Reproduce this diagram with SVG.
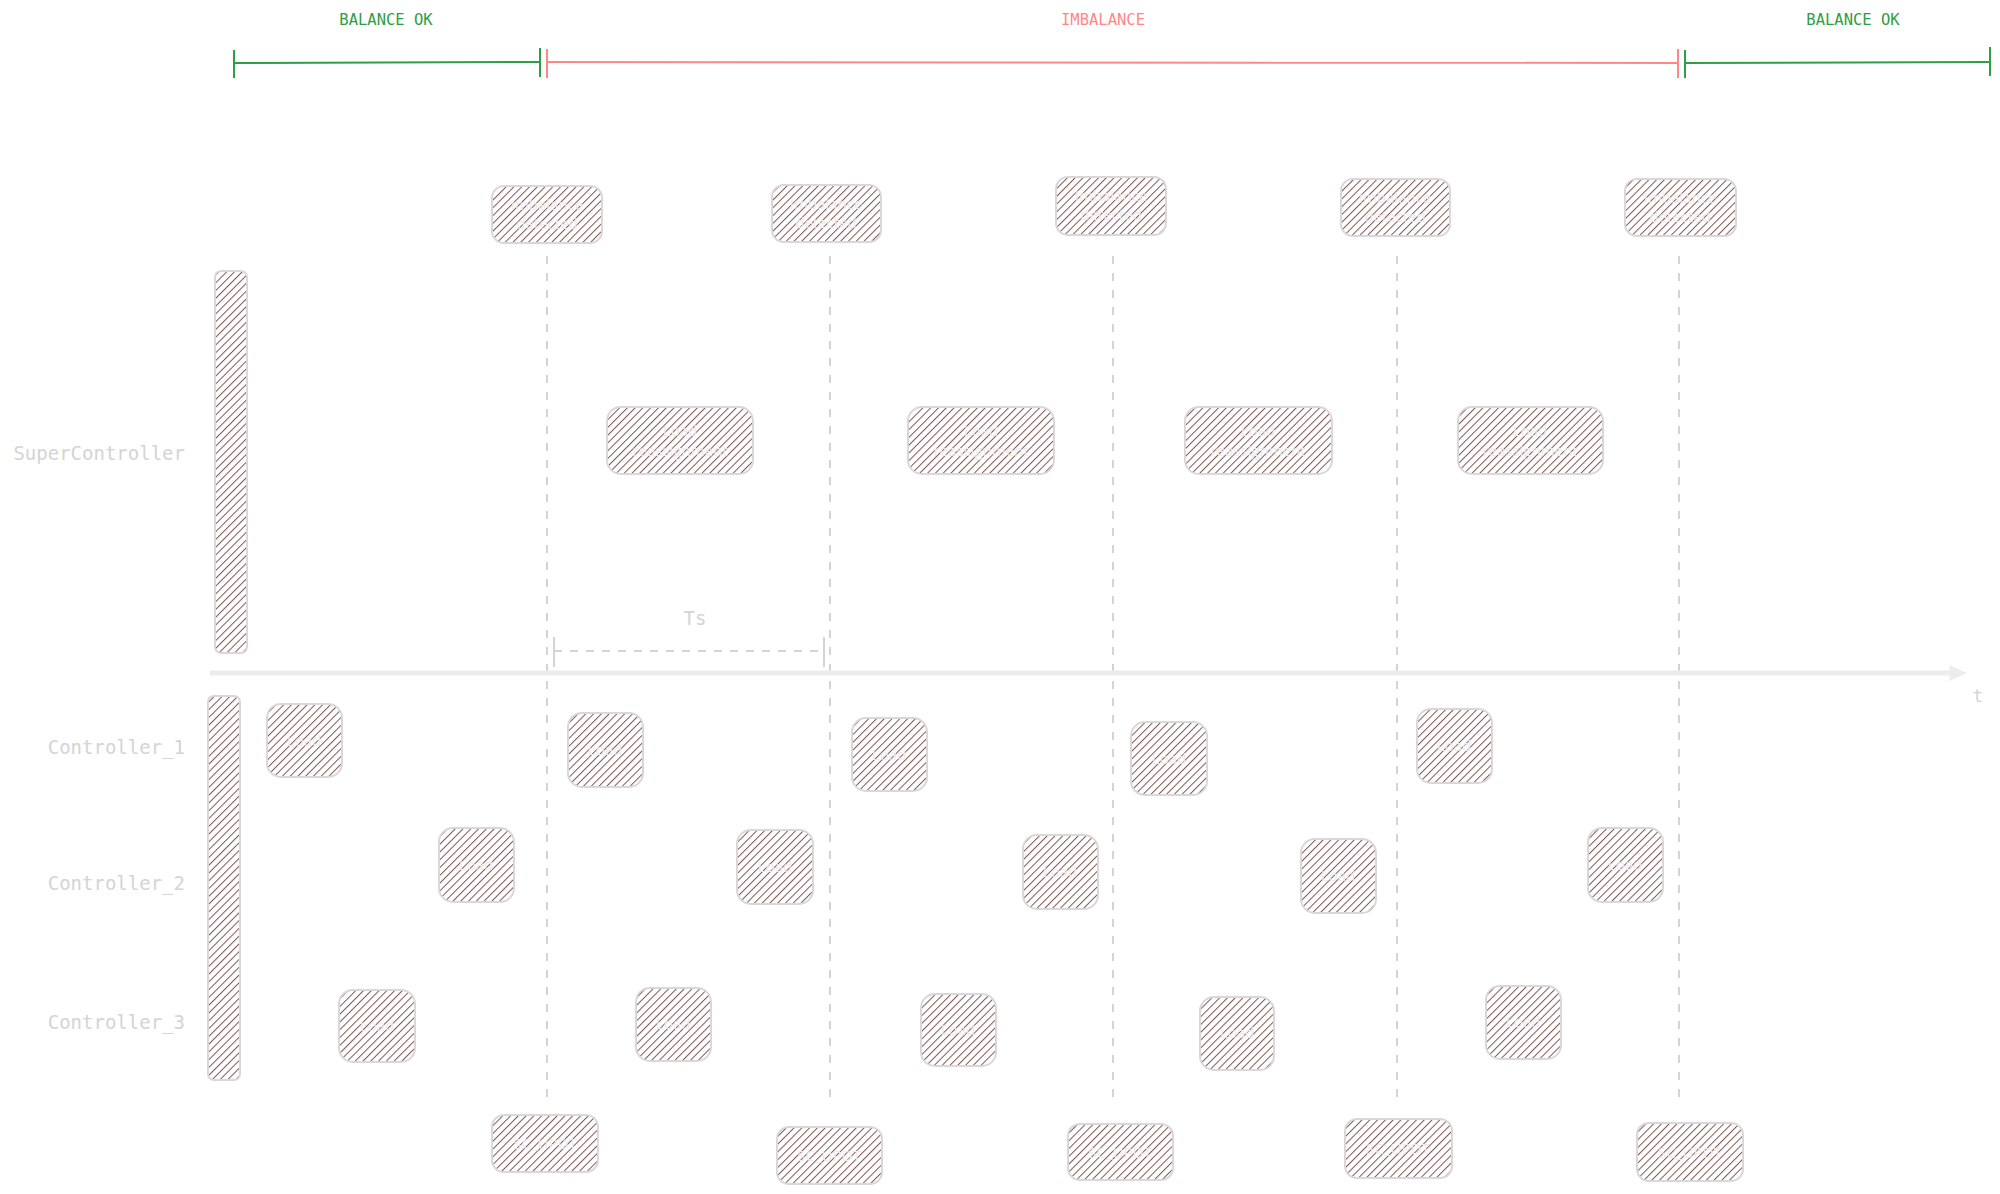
<svg xmlns="http://www.w3.org/2000/svg" width="2000" height="1194" viewBox="0 0 2000 1194">
<defs>
<pattern id="hatch" patternUnits="userSpaceOnUse" width="5.5" height="5.5" patternTransform="rotate(45)">
<rect width="5.5" height="5.5" fill="#ffffff"/>
<line x1="0" y1="0" x2="0" y2="5.5" stroke="#7e5656" stroke-width="2"/>
</pattern>
<marker id="arrow" markerWidth="20" markerHeight="20" refX="4" refY="10" orient="auto" markerUnits="userSpaceOnUse">
<path d="M0,2 Q2,10 0,18 L18,10 Z" fill="#ececec"/>
</marker>
</defs>
<style>
.box{fill:url(#hatch);stroke:#d8d8d8;stroke-width:2}
.btxt{font-family:"Open Sans","DejaVu Sans",sans-serif;font-size:15px;fill:#ececec;text-anchor:middle}
.lane{font-family:"DejaVu Sans Mono","Liberation Mono",monospace;font-size:19px;fill:#d4d4d4;text-anchor:end}
.phase{font-family:"DejaVu Sans Mono","Liberation Mono",monospace;font-size:15.5px;text-anchor:middle}
.vdash{stroke:#d4d4d4;stroke-width:2;stroke-dasharray:8 9;fill:none}
</style>
<rect width="2000" height="1194" fill="#ffffff"/>

<g id="phases">
<text class="phase" x="386" y="25" fill="#2f9e44">BALANCE OK</text>
<text class="phase" x="1103" y="25" fill="#ff8787">IMBALANCE</text>
<text class="phase" x="1853" y="25" fill="#2f9e44">BALANCE OK</text>
<g stroke="#2f9e44" stroke-width="2" fill="none">
<line x1="234" y1="63" x2="540" y2="62"/>
<line x1="234" y1="50" x2="234" y2="78"/>
<line x1="540" y1="48" x2="540" y2="77"/>
<line x1="1685" y1="63" x2="1990" y2="62"/>
<line x1="1685" y1="50" x2="1685" y2="78"/>
<line x1="1990" y1="47" x2="1990" y2="76"/>
</g>
<g stroke="#ff8787" stroke-width="2" fill="none">
<line x1="547" y1="62" x2="1678" y2="63"/>
<line x1="547" y1="49" x2="547" y2="78"/>
<line x1="1678" y1="49" x2="1678" y2="78"/>
</g>
</g>

<g id="connectors">
<line class="vdash" x1="547" y1="256" x2="547" y2="1097"/>
<line class="vdash" x1="830" y1="256" x2="830" y2="1097"/>
<line class="vdash" x1="1113" y1="256" x2="1113" y2="1097"/>
<line class="vdash" x1="1397" y1="256" x2="1397" y2="1097"/>
<line class="vdash" x1="1679" y1="256" x2="1679" y2="1097"/>
<line x1="210" y1="673" x2="1953" y2="673" stroke="#ececec" stroke-width="5" marker-end="url(#arrow)"/>
<text x="1978" y="702" font-family="DejaVu Sans Mono, Liberation Mono, monospace" font-size="18" fill="#d4d4d4" text-anchor="middle">t</text>
<g id="ts">
<line x1="554" y1="651" x2="824" y2="651" stroke="#d4d4d4" stroke-width="2" stroke-dasharray="8 8"/>
<line x1="554" y1="637" x2="554" y2="667" stroke="#d4d4d4" stroke-width="2"/>
<line x1="824" y1="637" x2="824" y2="667" stroke="#d4d4d4" stroke-width="2"/>
<text x="695" y="625" font-family="DejaVu Sans Mono, Liberation Mono, monospace" font-size="19" fill="#d4d4d4" text-anchor="middle">Ts</text>
</g>
</g>

<g id="lanes">
<text class="lane" x="185" y="460">SuperController</text>
<text class="lane" x="185" y="754">Controller_1</text>
<text class="lane" x="185" y="890">Controller_2</text>
<text class="lane" x="185" y="1029">Controller_3</text>
</g>

<g id="sc-bar"><rect class="box" x="215" y="271" width="32" height="382" rx="6"/></g>
<g id="ctrl-bar"><rect class="box" x="208" y="696" width="32" height="384" rx="6"/></g>

<g id="detect-1"><rect class="box" x="492" y="186" width="110" height="57" rx="12"/><text class="btxt" x="547" y="210">Imbalance</text><text class="btxt" x="547" y="229">detected</text></g>
<g id="detect-2"><rect class="box" x="772" y="185" width="109" height="57" rx="12"/><text class="btxt" x="826" y="209">Imbalance</text><text class="btxt" x="826" y="228">detected</text></g>
<g id="detect-3"><rect class="box" x="1056" y="177" width="110" height="58" rx="12"/><text class="btxt" x="1111" y="201">Imbalance</text><text class="btxt" x="1111" y="220">detected</text></g>
<g id="detect-4"><rect class="box" x="1341" y="179" width="109" height="57" rx="12"/><text class="btxt" x="1395" y="203">Imbalance</text><text class="btxt" x="1395" y="222">detected</text></g>
<g id="detect-5"><rect class="box" x="1625" y="179" width="111" height="57" rx="12"/><text class="btxt" x="1680" y="203">Imbalance</text><text class="btxt" x="1680" y="222">detected</text></g>

<g id="reassign-1"><rect class="box" x="607" y="407" width="146" height="67" rx="14"/><text class="btxt" x="680" y="436">Load</text><text class="btxt" x="680" y="456">reassignment</text></g>
<g id="reassign-2"><rect class="box" x="908" y="407" width="146" height="67" rx="14"/><text class="btxt" x="981" y="436">Load</text><text class="btxt" x="981" y="456">reassignment</text></g>
<g id="reassign-3"><rect class="box" x="1185" y="407" width="147" height="67" rx="14"/><text class="btxt" x="1258" y="436">Load</text><text class="btxt" x="1258" y="456">reassignment</text></g>
<g id="reassign-4"><rect class="box" x="1458" y="407" width="145" height="67" rx="14"/><text class="btxt" x="1530" y="436">Load</text><text class="btxt" x="1530" y="456">reassignment</text></g>

<g id="c1-1"><rect class="box" x="267" y="704" width="75" height="73" rx="14"/><text class="btxt" x="304" y="746">Load</text></g>
<g id="c1-2"><rect class="box" x="568" y="713" width="75" height="74" rx="14"/><text class="btxt" x="605" y="755">Load</text></g>
<g id="c1-3"><rect class="box" x="852" y="718" width="75" height="73" rx="14"/><text class="btxt" x="889" y="760">Load</text></g>
<g id="c1-4"><rect class="box" x="1131" y="722" width="76" height="73" rx="14"/><text class="btxt" x="1169" y="764">Load</text></g>
<g id="c1-5"><rect class="box" x="1417" y="709" width="75" height="74" rx="14"/><text class="btxt" x="1454" y="751">Load</text></g>

<g id="c2-1"><rect class="box" x="439" y="828" width="75" height="74" rx="14"/><text class="btxt" x="476" y="870">Load</text></g>
<g id="c2-2"><rect class="box" x="737" y="830" width="76" height="74" rx="14"/><text class="btxt" x="775" y="872">Load</text></g>
<g id="c2-3"><rect class="box" x="1023" y="835" width="75" height="74" rx="14"/><text class="btxt" x="1060" y="877">Load</text></g>
<g id="c2-4"><rect class="box" x="1301" y="839" width="75" height="74" rx="14"/><text class="btxt" x="1338" y="881">Load</text></g>
<g id="c2-5"><rect class="box" x="1588" y="828" width="75" height="74" rx="14"/><text class="btxt" x="1625" y="870">Load</text></g>

<g id="c3-1"><rect class="box" x="339" y="990" width="76" height="72" rx="14"/><text class="btxt" x="377" y="1031">Load</text></g>
<g id="c3-2"><rect class="box" x="636" y="988" width="75" height="73" rx="14"/><text class="btxt" x="673" y="1029">Load</text></g>
<g id="c3-3"><rect class="box" x="921" y="994" width="75" height="72" rx="14"/><text class="btxt" x="958" y="1035">Load</text></g>
<g id="c3-4"><rect class="box" x="1200" y="997" width="74" height="73" rx="14"/><text class="btxt" x="1237" y="1038">Load</text></g>
<g id="c3-5"><rect class="box" x="1486" y="986" width="75" height="73" rx="14"/><text class="btxt" x="1523" y="1027">Load</text></g>

<g id="upd-1"><rect class="box" x="492" y="1115" width="106" height="57" rx="12"/><text class="btxt" x="545" y="1149">SC_UPDT</text></g>
<g id="upd-2"><rect class="box" x="777" y="1127" width="105" height="57" rx="12"/><text class="btxt" x="829" y="1161">SC_UPDT</text></g>
<g id="upd-3"><rect class="box" x="1068" y="1124" width="105" height="56" rx="12"/><text class="btxt" x="1120" y="1158">SC_UPDT</text></g>
<g id="upd-4"><rect class="box" x="1345" y="1119" width="107" height="59" rx="12"/><text class="btxt" x="1398" y="1154">SC_UPDT</text></g>
<g id="upd-5"><rect class="box" x="1637" y="1123" width="106" height="58" rx="12"/><text class="btxt" x="1690" y="1158">SC_UPDT</text></g>
</svg>
